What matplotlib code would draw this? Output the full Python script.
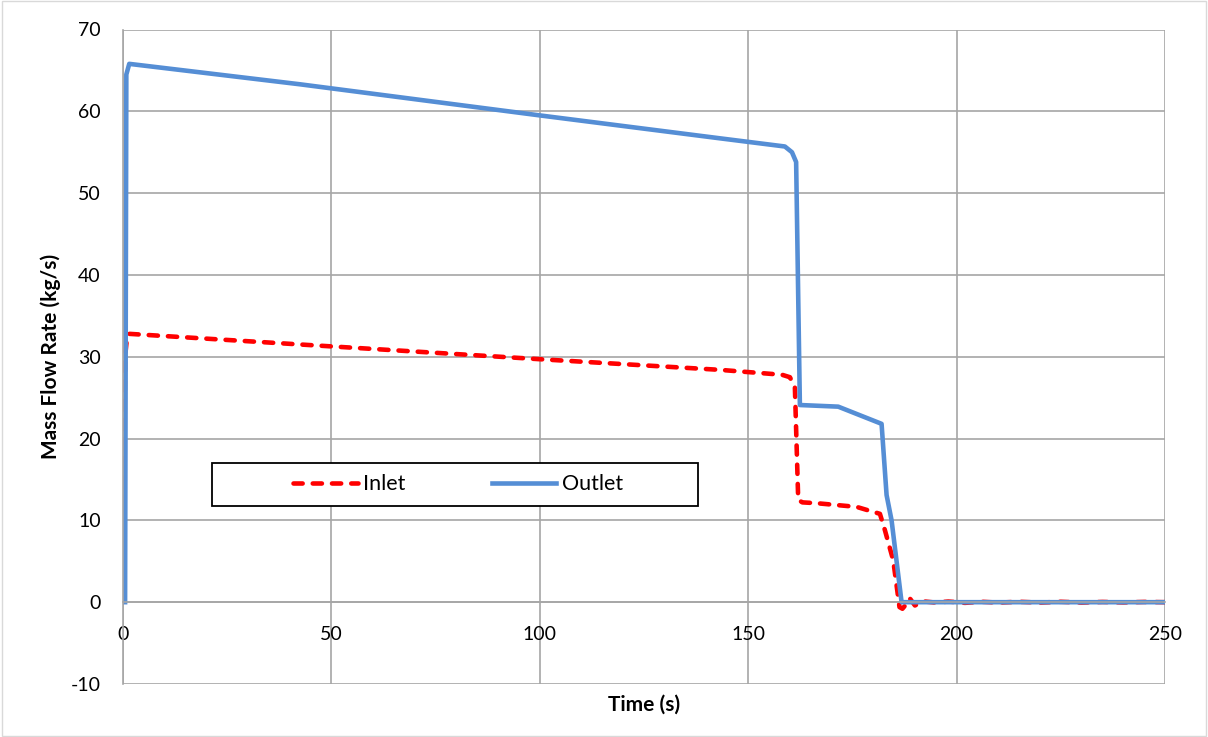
import numpy as np
import matplotlib.pyplot as plt
from matplotlib.patches import Rectangle

# time (s) and mass flow rate (kg/s)
inlet_t = [0, 0.5, 1.0, 1.5, 42.5, 100, 143.2, 158.1, 160.0, 161.2, 162.0, 163.0,
           166.4, 176.0, 181.6, 182.8, 184.8, 186.3, 187.0, 188.0, 188.8, 190.0,
           192, 195, 198, 202, 206, 210, 215, 220, 225, 230, 235, 240, 245, 250]
inlet_q = [0, 30.0, 32.5, 32.8, 31.5, 29.7, 28.4, 27.8, 27.5, 26.3, 12.5, 12.2,
           12.1, 11.65, 10.8, 8.8, 5.1, -0.6, -0.8, -0.2, 0.45, -0.4,
           0.1, -0.05, 0.08, -0.08, 0.05, -0.05, 0.05, -0.05, 0.05, -0.05, 0.03, -0.03, 0.03, 0.0]

outlet_t = [0.5, 0.8, 1.5, 42.5, 100, 143.2, 158.8, 160.5, 161.5, 162.4, 171.6,
            182.0, 183.2, 184.4, 186.8, 200, 250]
outlet_q = [0, 64.5, 65.8, 63.3, 59.5, 56.7, 55.7, 55.0, 53.8, 24.1, 23.9,
            21.8, 13.1, 10.0, 0, 0, 0]

x_ticks = [0, 50, 100, 150, 200, 250]
y_ticks = [-10, 0, 10, 20, 30, 40, 50, 60, 70]

plt.rcParams['font.family'] = ['Lato', 'DejaVu Sans']
plt.rcParams['axes.unicode_minus'] = False

fig = plt.figure(figsize=(12.08, 7.37), dpi=100)
ax = fig.add_axes([123 / 1208, 1 - 684 / 737, 1042 / 1208, 654.5 / 737])

ax.plot(inlet_t, inlet_q, color='#FF0000', lw=3.3, dashes=(2.0, 2.2),
        dash_capstyle='round', label='Inlet')
ax.plot(outlet_t, outlet_q, color='#558ED5', lw=3.3, solid_joinstyle='round',
        label='Outlet')

ax.set_xlim(0, 250)
ax.set_ylim(-10, 70)
ax.set_xticks(x_ticks)
ax.set_yticks(y_ticks)
ax.grid(True, color='#A6A6A6', lw=1.2)
ax.set_axisbelow(True)

for s in ['top', 'right']:
    ax.spines[s].set_visible(False)
ax.spines['bottom'].set_position(('data', 0))
ax.spines['bottom'].set_color('#A6A6A6')
ax.spines['left'].set_color('#A6A6A6')
ax.spines['bottom'].set_linewidth(1.2)
ax.spines['left'].set_linewidth(1.2)
ax.tick_params(axis='both', length=0, labelsize=14, colors='black')
ax.tick_params(axis='x', pad=17)
ax.tick_params(axis='y', pad=16)

ax.set_xlabel('Time (s)', fontsize=15, fontweight='bold')
ax.xaxis.set_label_coords(0.5, -0.017)
ax.set_ylabel('Mass Flow Rate (kg/s)', fontsize=15, fontweight='bold')
ax.yaxis.set_label_coords(-0.0595, 0.5)

# legend box like the reference (frame drawn separately)
ax.add_patch(Rectangle((89 / 1042, 178 / 654.5), 486 / 1042, 43 / 654.5,
                       transform=ax.transAxes, facecolor='white', edgecolor='black',
                       lw=1.3, zorder=4))
leg = ax.legend(loc='center', bbox_to_anchor=(0.3215, 0.305), ncol=2,
                fontsize=15.5, frameon=False,
                handlelength=3.0, handletextpad=0.25, columnspacing=4.0)
leg.set_zorder(5)

fig.patches.append(Rectangle((0.002, 0.002), 0.996, 0.996, transform=fig.transFigure,
                             fill=False, edgecolor='#D9D9D9', lw=1))

fig.savefig('out.png', dpi=100)
